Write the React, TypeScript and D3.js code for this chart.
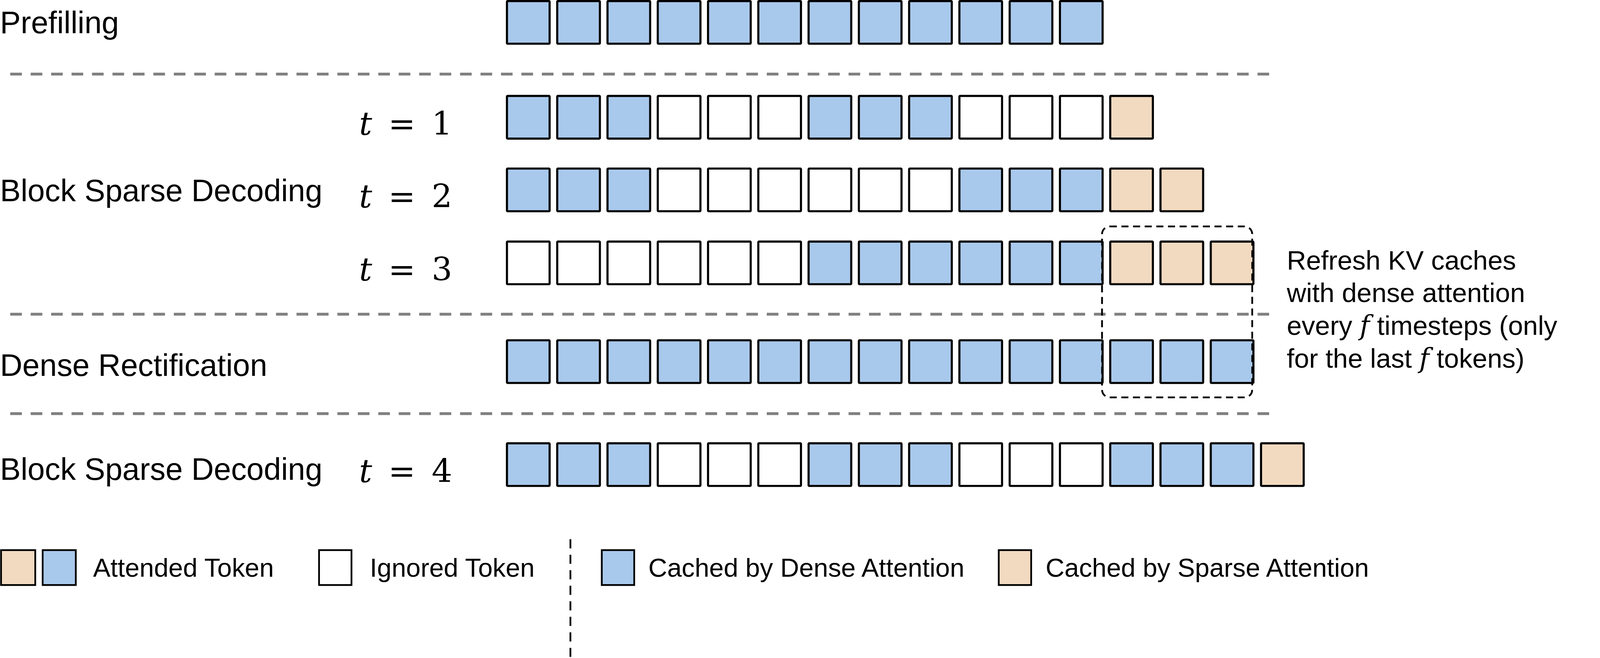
import * as d3 from 'd3';

// token kinds: B = attended/cached dense (blue), W = ignored, O = sparse cached (orange)
const rowNames = ['prefill', 't1', 't2', 't3', 'dense', 't4'];
const rowTokens = [
  'BBBBBBBBBBBB',
  'BBBWWWBBBWWWO',
  'BBBWWWWWWBBBOO',
  'WWWWWWBBBBBBOOO',
  'BBBBBBBBBBBBBBB',
  'BBBWWWBBBWWWBBBO',
];
const rowTops = [3, 272, 478, 685, 965, 1257];
const stepLabels = ['', '1', '2', '3', '', '4'];
const sectionLabels = [
  { text: 'Prefilling', y: 64 },
  { text: 'Block Sparse Decoding', y: 540 },
  { text: 'Dense Rectification', y: 1035 },
  { text: 'Block Sparse Decoding', y: 1330 },
];
const separatorYs = [210, 891, 1173];
const noteLines = ['Refresh KV caches', 'with dense attention', 'every \u0192 timesteps (only', 'for the last \u0192 tokens)'];

const fills: Record<string, string> = { B: '#a9c9ec', W: '#ffffff', O: '#f2dac0' };
const sans = '"Liberation Sans", Arial, sans-serif';
const serif = '"DejaVu Serif", "Liberation Serif", serif';

const W = 4506;
const H = 1684;
const BOX = 121;
const K = 0.9025; // layout units -> page pixels

export default function App() {
  const x = d3.scaleLinear().domain([0, 1]).range([1438, 1438 + 142.6]);

  return (
    <svg width={W} height={H} style={{ position: 'absolute', left: 0, top: 0, background: '#fff' }}>
      <g transform={`scale(${K})`}>
        {rowTokens.map((row, r) =>
          row.split('').map((k, i) => (
            <rect
              key={`${rowNames[r]}-${i}`}
              x={x(i)}
              y={rowTops[r]}
              width={BOX}
              height={BOX}
              fill={fills[k]}
              stroke="#000"
              strokeWidth={6}
              rx={2}
            />
          ))
        )}

        {separatorYs.map((y) => (
          <line key={y} x1={29} x2={3617} y1={y} y2={y} stroke="#808080" strokeWidth={8} strokeDasharray="33 25" />
        ))}

        {sectionLabels.map((s, i) => (
          <text key={i} x={0} y={s.y} fontFamily={sans} fontSize={88} dominantBaseline="central" fill="#000">
            {s.text}
          </text>
        ))}

        {stepLabels.map((s, r) =>
          s ? (
            <text key={r} x={1283} y={rowTops[r] + 78} fontFamily={serif} fontSize={92} textAnchor="end" dominantBaseline="central">
              <tspan fontStyle="italic">t</tspan>
              <tspan>{`\u2002=\u2002${s}`}</tspan>
            </text>
          ) : null
        )}

        {/* dashed highlight box */}
        <rect x={3126} y={642} width={426} height={485} rx={22} fill="none" stroke="#000" strokeWidth={5} strokeDasharray="20 13" />

        {noteLines.map((l, i) => (
          <text key={i} x={3650} y={764 + i * 93} fontFamily={sans} fontSize={76}>
            {l.split('\u0192').map((part, j, arr) => (
              <tspan key={j}>
                {part}
                {j < arr.length - 1 ? <tspan fontFamily={serif} fontStyle="italic">f</tspan> : null}
              </tspan>
            ))}
          </text>
        ))}

        {/* legend */}
        <rect x={3} y={1560} width={97} height={99} fill={fills.O} stroke="#000" strokeWidth={5} />
        <rect x={121} y={1560} width={94} height={99} fill={fills.B} stroke="#000" strokeWidth={5} />
        <text x={264} y={1636} fontFamily={sans} fontSize={74}>Attended Token</text>
        <rect x={905} y={1560} width={92} height={99} fill={fills.W} stroke="#000" strokeWidth={5} />
        <text x={1049} y={1636} fontFamily={sans} fontSize={74}>Ignored Token</text>
        <line x1={1618} x2={1618} y1={1529} y2={1866} stroke="#000" strokeWidth={5} strokeDasharray="26 18" />
        <rect x={1707} y={1560} width={92} height={99} fill={fills.B} stroke="#000" strokeWidth={5} />
        <text x={1839} y={1636} fontFamily={sans} fontSize={74}>Cached by Dense Attention</text>
        <rect x={2833} y={1560} width={92} height={99} fill={fills.O} stroke="#000" strokeWidth={5} />
        <text x={2966} y={1636} fontFamily={sans} fontSize={74}>Cached by Sparse Attention</text>
      </g>
    </svg>
  );
}
